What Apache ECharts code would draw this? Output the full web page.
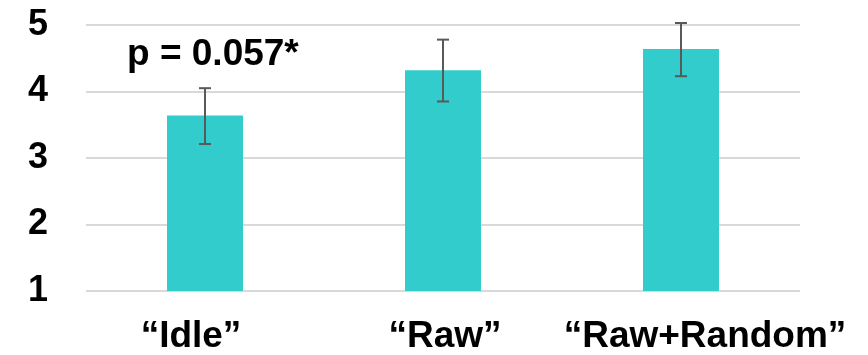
<!DOCTYPE html>
<html>
<head>
<meta charset="utf-8">
<script src="https://cdn.jsdelivr.net/npm/echarts@6/dist/echarts.min.js"></script>
<style>
  html, body { margin: 0; padding: 0; background: #fff; }
  #chart { width: 868px; height: 355px; }
</style>
</head>
<body>
<div id="chart"></div>
<script>
// Condition labels and mean ratings with error-bar bounds
const categories = ['\u201CIdle\u201D', '\u201CRaw\u201D', '\u201CRaw+Random\u201D'];
const means = [3.64, 4.32, 4.64];
const errLow = [3.21, 3.85, 4.23];
const errHigh = [4.05, 4.78, 5.03];
const yTicks = [1, 2, 3, 4, 5];
const annotation = 'p = 0.057*';

const FONT = '"Liberation Sans", Arial, sans-serif';
// horizontal nudge of each category label (px), so the long one stays inside the frame
const labelShift = [-14, 2, 24];

const chart = echarts.init(document.getElementById('chart'), null, { renderer: 'canvas' });

const errData = categories.map((c, i) => [i, errLow[i], errHigh[i]]);

const axisCats = categories.map((c, i) => ({
  value: c,
  textStyle: {
    padding: labelShift[i] < 0 ? [0, -2 * labelShift[i], 0, 0] : [0, 0, 0, 2 * labelShift[i]]
  }
}));

chart.setOption({
  animation: false,
  backgroundColor: '#fff',
  grid: { left: 86, right: 68, top: 25, bottom: 62, containLabel: false },
  xAxis: {
    type: 'category',
    data: axisCats,
    axisLine: { show: false },
    axisTick: { show: false },
    axisLabel: {
      interval: 0,
      hideOverlap: false,
      color: '#000',
      fontFamily: FONT,
      fontWeight: 'bold',
      fontSize: 37,
      margin: 27
    }
  },
  yAxis: {
    type: 'value',
    min: yTicks[0],
    max: yTicks[yTicks.length - 1],
    interval: 1,
    axisLine: { show: false },
    axisTick: { show: false },
    splitLine: { lineStyle: { color: '#d9d9d9', width: 2 } },
    axisLabel: {
      color: '#000',
      fontFamily: FONT,
      fontWeight: 'bold',
      fontSize: 36,
      margin: 38,
      padding: [0, 0, 4, 0]
    }
  },
  series: [
    {
      type: 'bar',
      data: means,
      barWidth: 76,
      clip: true,
      itemStyle: { color: '#33CCCC' }
    },
    {
      type: 'custom',
      data: errData,
      z: 5,
      renderItem: function (params, api) {
        const x = api.coord([api.value(0), api.value(1)])[0];
        const yLo = api.coord([api.value(0), api.value(1)])[1];
        const yHi = api.coord([api.value(0), api.value(2)])[1];
        const hw = 6;
        const style = { stroke: '#595959', lineWidth: 2 };
        return {
          type: 'group',
          children: [
            { type: 'line', shape: { x1: x, y1: yLo, x2: x, y2: yHi }, style: style },
            { type: 'line', shape: { x1: x - hw, y1: yHi, x2: x + hw, y2: yHi }, style: style },
            { type: 'line', shape: { x1: x - hw, y1: yLo, x2: x + hw, y2: yLo }, style: style }
          ]
        };
      }
    }
  ],
  graphic: [
    {
      type: 'text',
      left: 127,
      top: 36,
      style: {
        text: annotation,
        fill: '#000',
        font: 'bold 37px ' + FONT
      }
    }
  ]
});
</script>
</body>
</html>
